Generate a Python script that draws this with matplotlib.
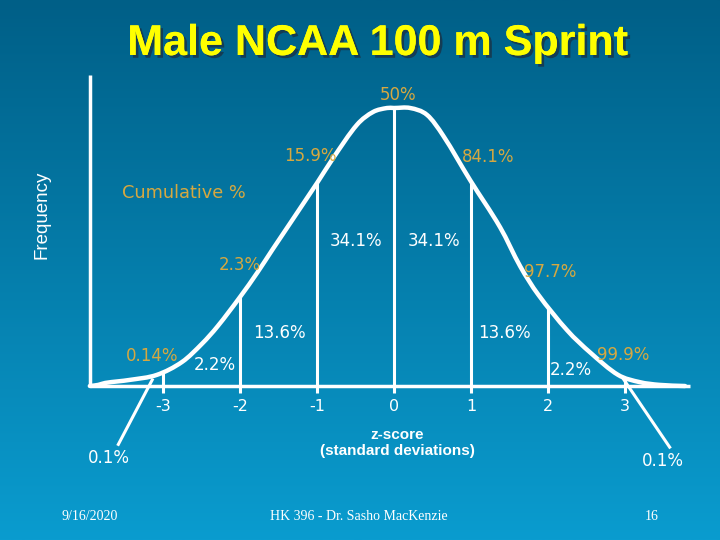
import numpy as np
import matplotlib.pyplot as plt
import matplotlib.patheffects as pe
from matplotlib.colors import LinearSegmentedColormap
from matplotlib.path import Path
from matplotlib.patches import PathPatch

# curve: z-score and height (peak = 1)
z_curve = [-3.95, -3.84, -3.75, -3.43, -3.08, -2.75, -2.49, -2.29, -2.00, -1.77,
           -1.58, -1.00, -0.79, -0.48, -0.27, -0.09, 0.00, 0.21, 0.43, 0.64,
           0.99, 1.38, 1.64, 1.87, 2.25, 2.55, 2.91, 3.19, 3.45, 3.78]
h_curve = [0.0, 0.004, 0.011, 0.022, 0.04, 0.087, 0.153, 0.215, 0.32, 0.41,
           0.49, 0.73, 0.82, 0.94, 0.986, 1.0, 1.0, 1.0, 0.975, 0.90,
           0.74, 0.57, 0.43, 0.33, 0.20, 0.12, 0.04, 0.014, 0.004, 0.0]

ticks = [-3, -2, -1, 0, 1, 2, 3]
tick_labels = ["-3", "-2", "-1", "0", "1", "2", "3"]
band_pct = ["34.1%", "13.6%", "2.2%", "0.1%"]
cum_pct = ["0.14%", "2.3%", "15.9%", "50%", "84.1%", "97.7%", "99.9%"]

orange = "#d6a840"
white = "white"


def smooth_path(xs, ys):
    # cubic Hermite through the read points (slopes from neighbours)
    x = np.asarray(xs, float)
    y = np.asarray(ys, float)
    m = np.zeros_like(y)
    m[1:-1] = (y[2:] - y[:-2]) / (x[2:] - x[:-2])
    m[0] = (y[1] - y[0]) / (x[1] - x[0])
    m[-1] = (y[-1] - y[-2]) / (x[-1] - x[-2])
    verts = [(x[0], y[0])]
    codes = [Path.MOVETO]
    for i in range(len(x) - 1):
        d = (x[i + 1] - x[i]) / 3
        verts += [(x[i] + d, y[i] + m[i] * d),
                  (x[i + 1] - d, y[i + 1] - m[i + 1] * d),
                  (x[i + 1], y[i + 1])]
        codes += [Path.CURVE4] * 3
    return Path(verts, codes)


fig = plt.figure(figsize=(7.2, 5.4), dpi=100)

# gradient background
bg = fig.add_axes([0, 0, 1, 1])
cmap = LinearSegmentedColormap.from_list("slide", ["#005f87", "#0a9ccf"])
bg.imshow(np.linspace(0, 1, 256).reshape(-1, 1), aspect="auto", cmap=cmap,
          extent=[0, 1, 0, 1], origin="upper")
bg.axis("off")

ax = fig.add_axes([0, 0, 1, 1])
ax.patch.set_alpha(0)
ax.set_xlim(-394 / 77, 326 / 77)
ax.set_ylim(-154 / 278, 386 / 278)
ax.axis("off")

# axes lines
ax.plot([-3.95, -3.95], [0, 1.12], color=white, lw=2.5, solid_capstyle="butt")
ax.plot([-3.95, 3.84], [0, 0], color=white, lw=2.5, solid_capstyle="butt")

# curve
ax.add_patch(PathPatch(smooth_path(z_curve, h_curve), fill=False,
                       edgecolor=white, lw=3.2, capstyle="round"))

# verticals / ticks
for t in ticks:
    top = np.interp(t, z_curve, h_curve)
    ax.plot([t, t], [-0.025, top], color=white, lw=2.2, solid_capstyle="butt")
for t, lab in zip(ticks, tick_labels):
    ax.text(t, -0.072, lab, color=white, fontsize=11.5, ha="center", va="center")

# pointer lines to the tails
ax.plot([-3.58, -3.14], [-0.21, 0.022], color=white, lw=2.2)
ax.plot([2.97, 3.58], [0.029, -0.22], color=white, lw=2.2)

pk = dict(fontsize=12, ha="center", va="center")
# band percentages
ax.text(-0.49, 0.522, band_pct[0], color=white, **pk)
ax.text(0.52, 0.522, band_pct[0], color=white, **pk)
ax.text(-1.49, 0.191, band_pct[1], color=white, **pk)
ax.text(1.44, 0.191, band_pct[1], color=white, **pk)
ax.text(-2.33, 0.076, band_pct[2], color=white, **pk)
ax.text(2.30, 0.058, band_pct[2], color=white, **pk)
ax.text(-3.70, -0.259, band_pct[3], color=white, **pk)
ax.text(3.49, -0.27, band_pct[3], color=white, **pk)

# cumulative percentages
cum_xy = [(-3.14, 0.108), (-2.0, 0.435), (-1.08, 0.827), (0.05, 1.047),
          (1.22, 0.824), (2.03, 0.41), (2.97, 0.112)]
for (x, y), lab in zip(cum_xy, cum_pct):
    ax.text(x, y, lab, color=orange, **pk)
ax.text(-2.73, 0.694, "Cumulative %", color=orange, fontsize=12.8,
        ha="center", va="center")

ax.text(0.04, -0.205, "z-score\n(standard deviations)", color=white,
        fontsize=11, fontweight="bold", family="Liberation Sans",
        ha="center", va="center", linespacing=1.25)

fig.text(42 / 720, 1 - 215 / 540, "Frequency", color=white, fontsize=13.5,
         family="Liberation Sans", rotation=90, ha="center", va="center")

fig.text(377 / 720, 1 - 44 / 540, "Male NCAA 100 m Sprint", color="#ffff00",
         fontsize=31, fontweight="bold", family="Liberation Sans",
         ha="center", va="center",
         path_effects=[pe.withSimplePatchShadow(offset=(2, -2),
                                                shadow_rgbFace="#1a3346", alpha=0.8),
                       pe.Normal()])

ft = dict(color=white, fontsize=10, family="Liberation Serif", va="center")
fig.text(90 / 720, 1 - 516 / 540, "9/16/2020", ha="center", **ft)
fig.text(359 / 720, 1 - 516 / 540, "HK 396 - Dr. Sasho MacKenzie", ha="center", **ft)
fig.text(652 / 720, 1 - 516 / 540, "16", ha="center", **ft)

fig.savefig("out.png", dpi=100)
